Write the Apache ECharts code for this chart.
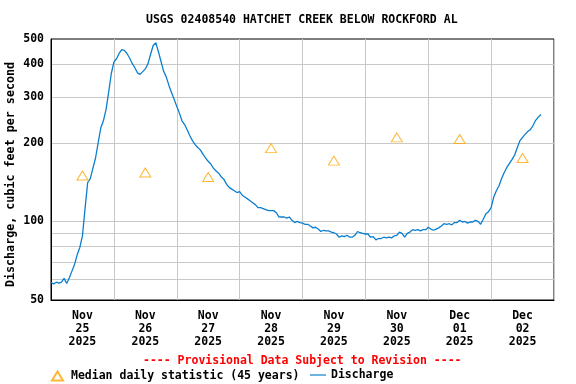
<!DOCTYPE html>
<html>
<head>
<meta charset="utf-8">
<script src="https://cdn.jsdelivr.net/npm/echarts@6/dist/echarts.min.js"></script>
<style>html,body{margin:0;padding:0;background:#fff}#c{width:576px;height:384px}</style>
</head>
<body>
<div id="c"></div>
<script>
// Hours since Nov 25 2025 00:00 for each discharge value = its index
const discharge = [
58.5,57.6,58.5,58.0,58.5,60.5,57.8,60.8,64.5,68.5,
74.5,79.5,88,112,141,146,160,175,200,228,
243,268,312,368,408,420,440,455,452,440,
423,403,388,371,366,375,384,402,436,472,
484,447,410,376,358,332,312,294,276,260,
243,235,224,213,204,197,192,188,181,175,
170,166,160,156,153,148,145,139,135,133,
131,129,130,126,124,122,120,118,116,113,
113,112,111,110,110,110,108,104,104,104,
103,104,101,99,100,99,98.5,97.5,97.5,96,
94.5,95,93.5,91.5,92.5,92,92,91,90.5,89.5,
87,88,87.5,88.5,87,87,88.5,91.5,90.5,90,
89.5,89.5,87,87.5,85,86,86,87,86.5,87,
86.5,88,88.5,91,90,87,90,91,93,92.5,
93,92,93,93,95,93.5,92.5,93.5,94.5,96,
98,97.5,98,97,99,99,101,99.5,100,98.5,
99.5,99.5,101,100,97.5,102,107,109,113,124,
131,137,146,154,161,167,173,180,192,204,
210,216,221,225,233,244,251,257
];
const medianHours = [12,36,60,84,108,132,156,180];
const medianValues = [150,154,148,191,171,210,207,175];
const xTickLabels = ['Nov\n25\n2025','Nov\n26\n2025','Nov\n27\n2025','Nov\n28\n2025','Nov\n29\n2025','Nov\n30\n2025','Dec\n01\n2025','Dec\n02\n2025'];
const yLabelValues = [50,100,200,300,400,500];
const yGridValues = [60,70,80,90,100,200,300,400];

const FONT = 'DejaVu Sans Mono';
const lg = Math.log10;
const legendText = {fontFamily:FONT, fontSize:11.5, fontWeight:'bold', color:'#000'};
const chart = echarts.init(document.getElementById('c'), null, {renderer:'canvas'});
chart.setOption({
  animation:false,
  backgroundColor:'#fff',
  title:[
    {text:'USGS 02408540 HATCHET CREEK BELOW ROCKFORD AL', left:146, top:14, padding:0,
     textStyle:{fontFamily:FONT, fontSize:11.5, fontWeight:'bold', color:'#000'}},
    {text:'---- Provisional Data Subject to Revision ----', left:143, top:355, padding:0,
     textStyle:{fontFamily:FONT, fontSize:11.5, fontWeight:'bold', color:'#ff0000'}}
  ],
  legend:[
    {left:51, top:370, padding:0, itemWidth:11, itemHeight:9,
     textStyle:Object.assign({padding:[0,0,0,3]}, legendText),
     data:[{name:'Median daily statistic (45 years)', icon:'triangle'}]},
    {left:310, top:369, padding:0, itemWidth:16, itemHeight:10,
     textStyle:legendText,
     data:[{name:'Discharge', icon:'path://M0,0L16,0L16,1.2L0,1.2Z'}]}
  ],
  grid:{left:51, top:39, width:503, height:261, show:true, borderColor:'#000', borderWidth:1,
        containLabel:false, outerBoundsMode:'none'},
  xAxis:[
    {type:'value', min:0, max:192, interval:24,
     axisLine:{show:true, lineStyle:{color:'#000'}}, axisTick:{show:false}, axisLabel:{show:false},
     splitLine:{show:true, lineStyle:{color:'#c8c8c8', width:1}}},
    {type:'value', min:0, max:192, interval:12, position:'bottom',
     axisLine:{show:false}, axisTick:{show:false}, splitLine:{show:false},
     axisLabel:{show:true, margin:9, fontFamily:FONT, fontSize:11.5, fontWeight:'bold', color:'#000', lineHeight:13.3,
       formatter:function(v){ return (Math.round(v)%24===12) ? xTickLabels[(Math.round(v)-12)/24] : ''; }}}
  ],
  yAxis:{
    type:'value', min:lg(50), max:lg(500),
    name:'Discharge, cubic feet per second', nameLocation:'middle', nameRotate:90, nameGap:34,
    nameMoveOverlap:false,
    nameTextStyle:{fontFamily:FONT, fontSize:11.7, fontWeight:'bold', color:'#000', padding:[0,10,0,0]},
    axisLine:{show:true, lineStyle:{color:'#000'}},
    axisTick:{show:false, customValues:yGridValues.map(lg)},
    axisLabel:{margin:7, fontFamily:FONT, fontSize:11.5, fontWeight:'bold', color:'#000',
      customValues:yLabelValues.map(lg),
      formatter:function(v){ return String(Math.round(Math.pow(10,v))); }},
    splitLine:{show:true, lineStyle:{color:'#c8c8c8', width:1}}
  },
  series:[
    {name:'Median daily statistic (45 years)', type:'scatter', xAxisIndex:0,
     symbol:'triangle', symbolSize:[11,9],
     itemStyle:{color:'rgba(0,0,0,0)', borderColor:'#ffa500', borderWidth:1},
     data:medianHours.map((h,i)=>[h, lg(medianValues[i])]), z:3},
    {name:'Discharge', type:'line', xAxisIndex:0, symbol:'none', showSymbol:false,
     lineStyle:{color:'#0a7fd0', width:1.3}, itemStyle:{color:'#0a7fd0'},
     data:discharge.map((v,i)=>[i, lg(v)]), z:2}
  ]
});
</script>
</body>
</html>
